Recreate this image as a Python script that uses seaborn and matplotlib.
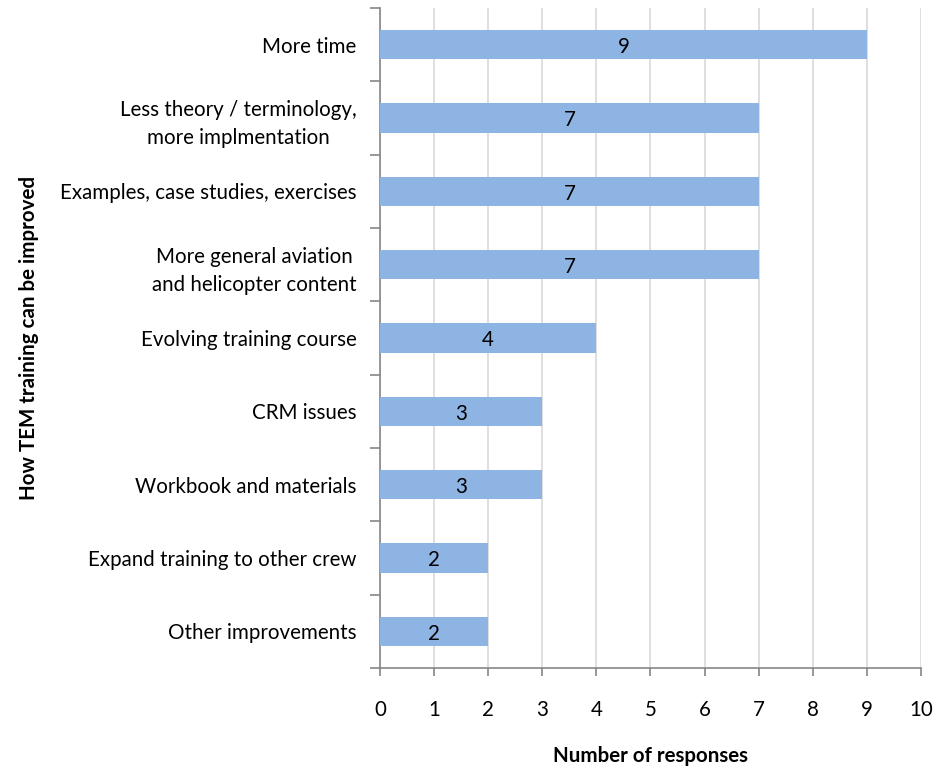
import numpy as np
import pandas as pd
import seaborn as sns
import matplotlib.pyplot as plt
from matplotlib.ticker import FixedLocator

categories = [
    "More time",
    "Less theory / terminology,\nmore implmentation",
    "Examples, case studies, exercises",
    "More general aviation\nand helicopter content",
    "Evolving training course",
    "CRM issues",
    "Workbook and materials",
    "Expand training to other crew",
    "Other improvements",
]
responses = [9, 7, 7, 7, 4, 3, 3, 2, 2]
x_ticks = list(range(0, 11))

sns.set_theme(style="white")
plt.rcParams["font.family"] = ["Lato", "DejaVu Sans"]
plt.rcParams["text.color"] = "black"
plt.rcParams["xtick.color"] = "black"
plt.rcParams["ytick.color"] = "black"
plt.rcParams["axes.labelcolor"] = "black"

FS = 14.8

df = pd.DataFrame({"item": categories, "n": responses})

fig = plt.figure(figsize=(9.42, 7.69), dpi=100)
ax = fig.add_axes([0.4034, 0.1313, 0.5743, 0.8583])

sns.barplot(data=df, y="item", x="n", orient="h", color="#8EB4E3",
            saturation=1, width=0.4, linewidth=0, ax=ax, zorder=3)

for i, v in enumerate(responses):
    ax.text(v / 2, i + 0.03, str(v), ha="center", va="center", fontsize=FS,
            color="black", zorder=4)

ax.set_xlim(0, 10)
ax.set_ylim(len(categories) - 0.5, -0.5)
ax.set_xticks(x_ticks)
ax.set_xticklabels([str(t) for t in x_ticks], fontsize=FS)
ax.tick_params(axis="x", which="major", direction="out", length=6, width=1.2,
               color="#868686", labelcolor="black", pad=17, bottom=True)
ax.set_yticks(range(len(categories)))
ax.set_yticklabels(categories, fontsize=FS, linespacing=1.5)
ax.tick_params(axis="y", which="major", length=0, pad=17, labelcolor="black")
ax.yaxis.set_minor_locator(FixedLocator(np.arange(-0.5, len(categories), 1)))
ax.tick_params(axis="y", which="minor", direction="out", length=7, width=1.2,
               color="#868686", left=True)
for lbl in ax.get_yticklabels():
    lbl.set_multialignment("center")

ax.grid(axis="x", color="#D9D9D9", linewidth=1.2, zorder=0)
ax.set_axisbelow(True)
for s in ["top", "right"]:
    ax.spines[s].set_visible(False)
for s in ["left", "bottom"]:
    ax.spines[s].set_color("#868686")
    ax.spines[s].set_linewidth(1.2)

ax.set_xlabel("Number of responses", fontsize=FS, fontweight="bold", labelpad=19)
ax.set_ylabel("How TEM training can be improved", fontsize=FS, fontweight="bold")
ax.yaxis.set_label_coords(-0.63, 0.5)

fig.savefig("out.png", dpi=100)
